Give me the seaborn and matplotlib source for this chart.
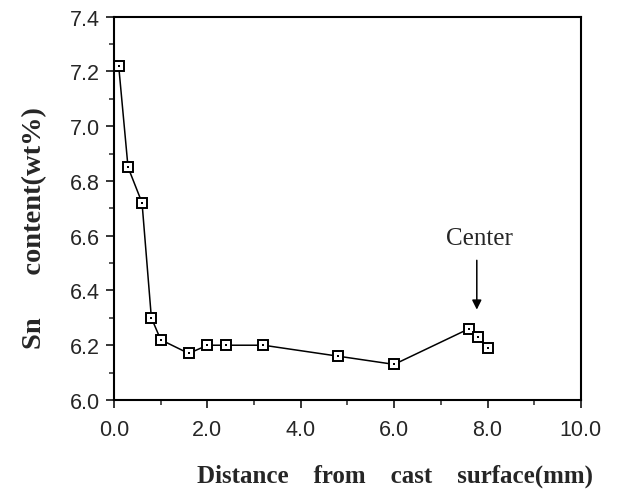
import numpy as np
import pandas as pd
import matplotlib
matplotlib.use("Agg")
import matplotlib.pyplot as plt
from matplotlib.ticker import MultipleLocator, FormatStrFormatter
import seaborn as sns

# Werte
distance_mm = [0.1, 0.3, 0.6, 0.8, 1.0, 1.6, 2.0, 2.4, 3.2, 4.8, 6.0, 7.6, 7.8, 8.0]
sn_content = [7.22, 6.85, 6.72, 6.30, 6.22, 6.17, 6.20, 6.20, 6.20, 6.16, 6.13, 6.26, 6.23, 6.19]

x_label = "Distance    from    cast    surface(mm)"
y_label = "Sn      content(wt%)"
center_label = "Center"
center_x = 7.77
center_arrow_y = (6.51, 6.33)
center_text_y = 6.59

df = pd.DataFrame({"dist": distance_mm, "sn": sn_content})

sns.set_style("ticks")
plt.rcParams["font.family"] = ["Liberation Sans", "DejaVu Sans"]

fig = plt.figure(figsize=(6.18, 5.02), dpi=100)
ax = fig.add_axes([0.1845, 0.2012, 0.7555, 0.7638])

sns.lineplot(data=df, x="dist", y="sn", ax=ax, color="black", linewidth=1.1,
             marker="s", markersize=7, markerfacecolor="white",
             markeredgecolor="black", markeredgewidth=1.4)
# Punkt in der Mitte der Quadrate
sns.scatterplot(data=df, x="dist", y="sn", ax=ax, color="black", marker="s",
                s=2, linewidth=0, zorder=5)

ax.set_xlim(0, 10)
ax.set_ylim(6.0, 7.4)
ax.xaxis.set_major_locator(MultipleLocator(2))
ax.xaxis.set_minor_locator(MultipleLocator(1))
ax.yaxis.set_major_locator(MultipleLocator(0.2))
ax.yaxis.set_minor_locator(MultipleLocator(0.1))
ax.xaxis.set_major_formatter(FormatStrFormatter("%.1f"))
ax.yaxis.set_major_formatter(FormatStrFormatter("%.1f"))
ax.tick_params(which="major", length=6, width=1.3, labelsize=15.5)
ax.tick_params(axis="x", which="major", pad=8)
ax.tick_params(axis="y", which="major", pad=4)
ax.tick_params(which="minor", length=3.5, width=1.1)

for s in ax.spines.values():
    s.set_linewidth(1.5)
    s.set_color("black")

serif = ["Liberation Serif", "DejaVu Serif"]
ax.set_xlabel(x_label, fontsize=18, fontweight="bold", family=serif, va="center")
ax.xaxis.set_label_coords(0.602, -0.196)
ax.set_ylabel(y_label, fontsize=20.5, fontweight="bold", family=serif, va="center")
ax.yaxis.set_label_coords(-0.17, 0.452)

ax.annotate("", xy=(center_x, center_arrow_y[1]), xytext=(center_x, center_arrow_y[0]),
            arrowprops=dict(arrowstyle="-|>", color="black", lw=1.1,
                            mutation_scale=14, shrinkA=0, shrinkB=0))
ax.text(center_x + 0.06, center_text_y, center_label, family=serif, fontsize=18,
        ha="center", va="center")

fig.savefig("out.png", dpi=100)
